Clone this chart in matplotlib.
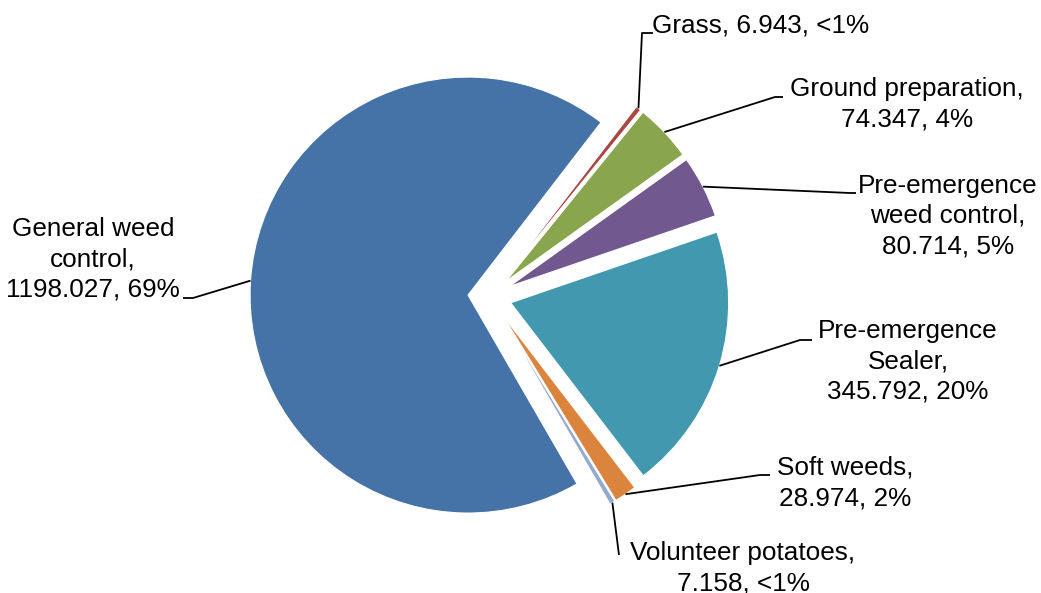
import numpy as np
import matplotlib

matplotlib.use("Agg")
import matplotlib.pyplot as plt

# data
categories = [
    "General weed control",
    "Grass",
    "Ground preparation",
    "Pre-emergence weed control",
    "Pre-emergence Sealer",
    "Soft weeds",
    "Volunteer potatoes",
]
values = [1198.027, 6.943, 74.347, 80.714, 345.792, 28.974, 7.158]
label_texts = [
    "General weed\ncontrol,\n1198.027, 69%",
    "Grass, 6.943, <1%",
    "Ground preparation,\n74.347, 4%",
    "Pre-emergence\nweed control,\n80.714, 5%",
    "Pre-emergence\nSealer,\n345.792, 20%",
    "Soft weeds,\n28.974, 2%",
    "Volunteer potatoes,\n7.158, <1%",
]
colors = ["#4572A7", "#AA4643", "#89A54E", "#71588F", "#4198AF", "#DB843D", "#93A9CF"]

# layout (pixel coords, y from top): text centre, elbow of leader, end of leader
W, H = 1041, 593
text_pos = [(93, 259), (761, 25), (907, 104), (948, 216), (908, 361), (845, 483), (743, 568)]
elbow = [(193, 298), (642, 33), (775, 97), (850, 193), (800, 340), (760, 475), (619, 555)]
leader_end = [(183, 298), (653, 33), (783, 97), (856, 193), (812, 340), (770, 475), (619, 555)]

plt.rcParams["font.family"] = ["Liberation Sans", "DejaVu Sans"]

fig = plt.figure(figsize=(W / 100, H / 100), dpi=100)
ax = fig.add_axes([0, 0, 1, 1])

center = (489.8, H - 296.5)
radius = 218
wedges, _ = ax.pie(
    values,
    colors=colors,
    startangle=-60,
    counterclock=False,
    explode=[0.1 * radius] * len(values),
    radius=radius,
    center=center,
    wedgeprops=dict(linewidth=0.8, edgecolor="white"),
    frame=True,
)
ax.set_xlim(0, W)
ax.set_ylim(0, H)
ax.set_aspect("equal")
ax.axis("off")

for w, txt, tp, el, le in zip(wedges, label_texts, text_pos, elbow, leader_end):
    mid = np.deg2rad((w.theta1 + w.theta2) / 2)
    cx, cy = w.center
    px = cx + w.r * np.cos(mid)
    py = cy + w.r * np.sin(mid)
    ax.plot([px, el[0], le[0]], [py, H - el[1], H - le[1]], color="black", lw=1.3, solid_capstyle="butt")
    ax.text(tp[0], H - tp[1], txt, ha="center", va="center", fontsize=18.8,
            linespacing=1.32, color="black")

fig.savefig("out.png", dpi=100)
